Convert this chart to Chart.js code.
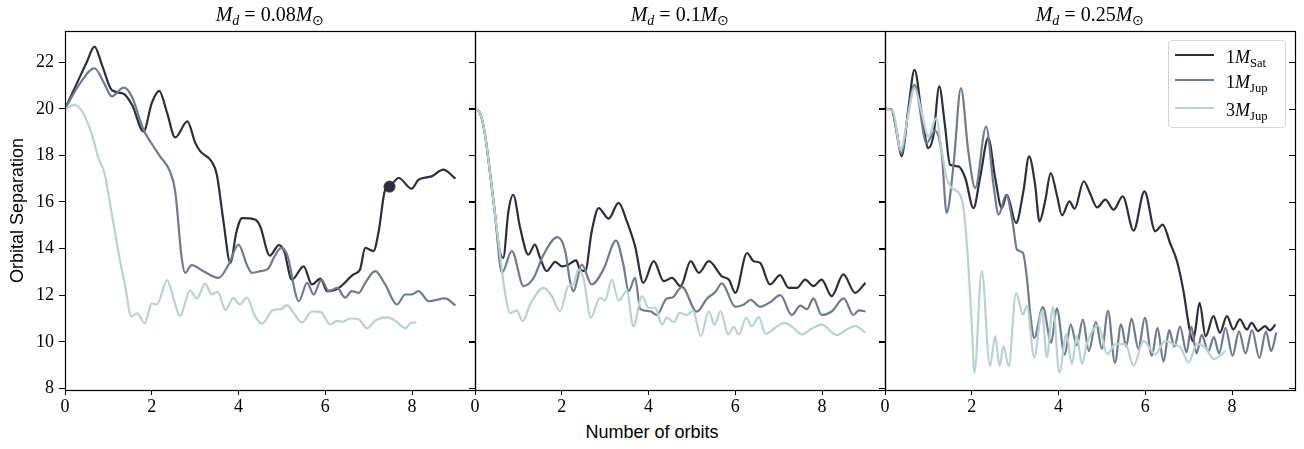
<!DOCTYPE html>
<html>
<head>
<meta charset="utf-8">
<title>Orbital separation</title>
<script src="https://cdn.jsdelivr.net/npm/chart.js@4.4.0/dist/chart.umd.min.js"></script>
<style>
  html, body { margin: 0; padding: 0; background: #fff; }
  #fig { position: relative; width: 1304px; height: 449px; overflow: hidden; }
  .panel { position: absolute; top: 0; }
  .ttl { position: absolute; top: 2px; width: 300px; margin-left: -150px; text-align: center;
         font-family: "Liberation Serif", serif; font-size: 20px; line-height: 24px; white-space: nowrap; }
  .sub { font-size: 0.7em; position: relative; top: 0.3em; }
  #xlabel { position: absolute; left: 552px; width: 200px; top: 422px; text-align: center;
            font-family: "Liberation Sans", sans-serif; font-size: 18px; line-height: 20px; }
  #legend { position: absolute; left: 1168px; top: 40px; width: 116px; height: 86px;
            border: 1px solid #d4d4d4; border-radius: 4px; background: rgba(255,255,255,0.85); }
  .lg-line { position: absolute; left: 6px; width: 39px; height: 2px; }
  .lg-text { position: absolute; left: 57px; font-family: "Liberation Serif", serif;
             font-size: 18px; line-height: 20px; white-space: nowrap; }
</style>
</head>
<body>
<div id="fig">
  <div id="xlabel">Number of orbits</div>
</div>
<script>
// axes
const xTicks = [0, 2, 4, 6, 8];
const yTicks = [8, 10, 12, 14, 16, 18, 20, 22];
const xMax = 9.45;
const yMin = 7.93, yMax = 23.34;

// legend text: planet mass
const seriesNum = ['1', '1', '3'];
const seriesSub = ['Sat', 'Jup', 'Jup'];
const seriesColors = ['#2d2d3e', '#707b8f', '#b9d2d2'];

// disc masses (panel titles)
const discMass = ['0.08', '0.1', '0.25'];

// M_d = 0.08
const a08SatX = [0, 0.3, 0.5, 0.68, 0.85, 1.08, 1.35, 1.55, 1.81, 2.0, 2.17, 2.35, 2.54, 2.82, 3.0, 3.12, 3.38, 3.5, 3.65, 3.81, 3.95, 4.08, 4.38, 4.5, 4.72, 4.93, 5.05, 5.23, 5.5, 5.69, 5.89, 6.04, 6.31, 6.65, 6.8, 6.92, 7.11, 7.23, 7.38, 7.48, 7.69, 7.99, 8.15, 8.45, 8.72, 9.0];
const a08SatY = [20, 21.2, 22.0, 22.67, 21.9, 20.8, 20.65, 20.15, 19.03, 20.25, 20.77, 19.85, 18.77, 19.46, 18.55, 18.17, 17.74, 17.17, 15.2, 13.39, 14.7, 15.31, 15.25, 14.95, 13.7, 14.15, 13.9, 12.67, 13.24, 12.46, 12.71, 12.17, 12.31, 12.89, 13.1, 14.03, 13.89, 14.74, 16.53, 16.66, 17.03, 16.57, 16.96, 17.1, 17.39, 17.0];
const a08JupX = [0, 0.35, 0.68, 0.9, 1.08, 1.35, 1.54, 1.81, 2.0, 2.19, 2.42, 2.54, 2.69, 2.77, 2.92, 3.19, 3.54, 3.77, 4.0, 4.19, 4.31, 4.5, 4.69, 4.81, 4.98, 5.12, 5.39, 5.58, 5.73, 5.91, 6.08, 6.27, 6.46, 6.61, 6.77, 6.92, 7.15, 7.38, 7.65, 7.84, 7.99, 8.15, 8.38, 8.76, 9.0];
const a08JupY = [20, 21.1, 21.74, 21.1, 20.53, 20.91, 20.53, 19.1, 18.5, 17.96, 17.31, 16.46, 13.6, 12.96, 13.29, 13.03, 12.74, 13.31, 14.17, 13.31, 12.96, 13.03, 13.15, 13.6, 14.03, 13.74, 11.74, 12.53, 12.03, 12.67, 12.17, 12.31, 11.89, 12.17, 12.1, 12.53, 13.03, 12.46, 11.6, 12.03, 12.03, 12.17, 11.74, 11.86, 11.56];
const a08J3X = [0, 0.23, 0.42, 0.62, 0.77, 0.92, 1.04, 1.15, 1.27, 1.38, 1.53, 1.66, 1.84, 2.0, 2.12, 2.35, 2.52, 2.65, 2.88, 3.04, 3.23, 3.38, 3.52, 3.7, 3.88, 4.03, 4.19, 4.38, 4.54, 4.8, 4.98, 5.11, 5.27, 5.46, 5.69, 5.89, 6.11, 6.27, 6.4, 6.57, 6.77, 6.96, 7.15, 7.42, 7.61, 7.84, 7.99, 8.1];
const a08J3Y = [20, 20.17, 19.81, 18.89, 17.89, 17.17, 15.89, 14.74, 13.46, 12.46, 11.08, 11.22, 10.8, 11.65, 11.6, 12.65, 11.74, 11.1, 12.2, 11.86, 12.5, 12.03, 12.14, 11.37, 11.87, 11.6, 11.9, 11.1, 10.78, 11.37, 11.4, 11.57, 11.24, 10.83, 11.3, 11.28, 10.75, 10.9, 10.86, 11.0, 10.96, 10.58, 10.91, 11.05, 10.91, 10.58, 10.82, 10.82];
// highlighted point on the Saturn run
const markX = [7.48];
const markY = [16.66];

// M_d = 0.1
const a10SatX = [0, 0.12, 0.23, 0.35, 0.46, 0.56, 0.65, 0.77, 0.88, 1.04, 1.23, 1.38, 1.5, 1.65, 1.85, 2.0, 2.15, 2.33, 2.42, 2.54, 2.69, 2.85, 3.08, 3.31, 3.5, 3.69, 3.88, 4.12, 4.35, 4.54, 4.74, 4.97, 5.16, 5.39, 5.69, 5.85, 6.0, 6.27, 6.42, 6.57, 6.8, 7.03, 7.23, 7.42, 7.61, 7.8, 7.99, 8.22, 8.49, 8.76, 9.0];
const a10SatY = [20, 19.8, 18.9, 17.2, 15.5, 14.0, 13.6, 15.6, 16.31, 14.89, 13.74, 14.17, 13.6, 13.03, 13.43, 13.24, 13.31, 13.49, 13.1, 13.03, 14.74, 15.74, 15.29, 15.96, 15.17, 14.1, 12.53, 13.46, 12.6, 12.74, 12.39, 13.46, 12.96, 13.46, 12.81, 12.67, 12.1, 13.81, 13.46, 13.39, 12.46, 12.86, 12.31, 12.31, 12.67, 12.39, 12.67, 11.96, 12.89, 12.1, 12.53];
const a10JupX = [0, 0.12, 0.23, 0.35, 0.46, 0.62, 0.85, 1.12, 1.35, 1.58, 1.9, 2.08, 2.19, 2.27, 2.46, 2.69, 2.96, 3.25, 3.42, 3.54, 3.69, 3.81, 4.04, 4.19, 4.42, 4.55, 4.77, 5.11, 5.35, 5.54, 5.69, 6.0, 6.2, 6.35, 6.57, 6.8, 7.04, 7.3, 7.5, 7.65, 7.8, 7.99, 8.22, 8.5, 8.72, 8.85, 9.0];
const a10JupY = [20, 19.8, 18.9, 17.2, 15.5, 12.96, 13.89, 12.39, 12.74, 13.74, 14.49, 13.89, 12.6, 12.17, 13.31, 12.46, 13.1, 14.34, 13.31, 12.17, 12.74, 11.4, 11.31, 11.15, 11.86, 11.9, 12.36, 11.29, 11.86, 12.14, 12.51, 11.5, 11.6, 11.8, 11.5, 11.7, 12.0, 11.15, 11.55, 11.4, 11.86, 11.15, 11.3, 11.86, 11.15, 11.35, 11.3];
const a10J3X = [0, 0.12, 0.23, 0.35, 0.46, 0.58, 0.66, 0.81, 0.96, 1.1, 1.27, 1.58, 1.77, 1.96, 2.15, 2.27, 2.38, 2.5, 2.67, 2.88, 3.0, 3.15, 3.31, 3.5, 3.65, 3.85, 4.0, 4.15, 4.31, 4.42, 4.59, 4.71, 4.88, 5.03, 5.2, 5.39, 5.52, 5.66, 5.84, 5.96, 6.08, 6.25, 6.38, 6.54, 6.7, 6.92, 7.13, 7.34, 7.53, 7.76, 7.99, 8.34, 8.57, 8.76, 9.0];
const a10J3Y = [20, 19.8, 18.9, 17.2, 15.5, 13.7, 12.5, 11.24, 11.34, 10.89, 11.6, 12.31, 11.96, 11.31, 12.39, 12.46, 13.1, 12.74, 11.03, 11.89, 11.77, 12.67, 11.77, 12.17, 10.67, 11.96, 11.46, 11.46, 10.74, 11.03, 10.84, 11.24, 11.15, 11.34, 10.24, 11.31, 10.74, 11.31, 10.31, 10.63, 10.31, 11.03, 10.67, 11.06, 10.34, 10.6, 10.81, 10.6, 10.31, 10.57, 10.74, 10.29, 10.53, 10.67, 10.39];

// M_d = 0.25
const a25SatX = [0, 0.15, 0.27, 0.38, 0.54, 0.68, 0.85, 1.0, 1.12, 1.25, 1.38, 1.5, 1.69, 1.85, 2.04, 2.19, 2.38, 2.54, 2.69, 2.81, 3.02, 3.19, 3.32, 3.46, 3.56, 3.69, 3.82, 3.96, 4.08, 4.25, 4.37, 4.58, 4.72, 4.89, 5.08, 5.27, 5.48, 5.73, 5.98, 6.23, 6.4, 6.57, 6.73, 6.88, 7.0, 7.09, 7.15, 7.25, 7.39, 7.57, 7.72, 7.88, 8.03, 8.18, 8.34, 8.45, 8.6, 8.76, 8.87, 9.0];
const a25SatY = [20, 19.96, 19.03, 17.96, 20.03, 21.67, 19.74, 18.31, 18.89, 20.96, 19.31, 17.6, 17.53, 17.03, 15.74, 17.03, 18.74, 17.03, 15.74, 16.31, 15.1, 16.46, 17.96, 16.74, 15.17, 16.03, 17.24, 16.31, 15.43, 16.03, 15.71, 16.89, 16.4, 15.77, 16.1, 15.67, 16.24, 14.77, 16.46, 14.74, 15.03, 14.24, 13.46, 12.17, 10.74, 10.03, 10.46, 11.67, 10.24, 11.1, 10.39, 11.1, 10.53, 10.96, 10.53, 10.81, 10.46, 10.67, 10.49, 10.74];
const a25JupX = [0, 0.15, 0.38, 0.54, 0.68, 0.96, 1.15, 1.31, 1.42, 1.58, 1.75, 1.92, 2.08, 2.33, 2.5, 2.62, 2.79, 2.95, 3.04, 3.18, 3.27, 3.35, 3.44, 3.64, 3.83, 3.96, 4.14, 4.28, 4.42, 4.56, 4.7, 4.86, 5.0, 5.14, 5.3, 5.44, 5.56, 5.68, 5.84, 5.99, 6.15, 6.28, 6.42, 6.55, 6.67, 6.8, 6.95, 7.06, 7.18, 7.3, 7.45, 7.58, 7.7, 7.85, 8.01, 8.16, 8.31, 8.46, 8.63, 8.78, 8.9, 9.02];
const a25JupY = [20, 19.96, 18.1, 19.9, 21.03, 18.53, 19.06, 18.03, 15.53, 17.6, 20.89, 18.17, 16.6, 19.24, 16.74, 15.46, 16.31, 15.03, 13.96, 13.81, 12.74, 11.17, 10.17, 11.49, 9.96, 11.44, 9.45, 10.74, 9.85, 10.95, 9.6, 10.85, 9.7, 11.33, 9.1, 10.75, 9.8, 11.0, 9.7, 11.03, 9.4, 10.6, 9.15, 10.5, 9.8, 10.65, 9.55, 10.65, 9.5, 10.3, 9.6, 10.2, 9.5, 10.6, 9.4, 10.45, 9.5, 10.5, 9.3, 10.45, 9.6, 10.4];
const a25J3X = [0, 0.19, 0.36, 0.52, 0.68, 0.84, 1.0, 1.18, 1.31, 1.42, 1.54, 1.73, 1.82, 1.92, 2.0, 2.06, 2.23, 2.42, 2.54, 2.64, 2.73, 2.85, 3.02, 3.18, 3.27, 3.44, 3.62, 3.73, 3.87, 4.02, 4.18, 4.31, 4.42, 4.54, 4.65, 4.92, 5.12, 5.31, 5.54, 5.73, 5.96, 6.23, 6.46, 6.65, 6.81, 7.0, 7.19, 7.38, 7.58, 7.85];
const a25J3Y = [20, 19.86, 18.24, 19.6, 20.89, 19.9, 18.81, 19.6, 18.17, 17.03, 16.6, 16.31, 15.6, 13.31, 10.74, 8.67, 13.03, 8.96, 10.24, 8.96, 9.81, 8.96, 12.1, 11.17, 11.53, 9.33, 11.33, 9.33, 11.5, 8.69, 10.33, 9.04, 10.26, 9.04, 9.9, 10.69, 9.47, 9.9, 9.9, 8.97, 10.04, 9.47, 10.04, 9.9, 9.76, 9.11, 9.9, 9.76, 9.26, 9.61];

// page layout of the three axes boxes (px)
const panels = [
  { series: [[a08SatX, a08SatY], [a08JupX, a08JupY], [a08J3X, a08J3Y]], left: 65, right: 475 },
  { series: [[a10SatX, a10SatY], [a10JupX, a10JupY], [a10J3X, a10J3Y]], left: 475, right: 885 },
  { series: [[a25SatX, a25SatY], [a25JupX, a25JupY], [a25J3X, a25J3Y]], left: 885, right: 1295 },
];
const AXW = 65, PADR = 15, TOP = 31, XAXH = 59, H = 449;
const serif = { family: '"Liberation Serif", serif', size: 18 };

function toPoints(xs, ys) {
  return xs.map((x, i) => ({ x: x, y: ys[i] }));
}

// box around the axes + the inward ticks on the right edge
const framePlugin = {
  id: 'frame',
  afterDraw(chart) {
    const { ctx, chartArea: a } = chart;
    const y = chart.scales.y;
    ctx.save();
    ctx.strokeStyle = '#000';
    ctx.lineWidth = 1.2;
    ctx.strokeRect(a.left + 0.5, a.top + 0.5, a.right - a.left, a.bottom - a.top);
    ctx.lineWidth = 1;
    y.ticks.forEach(t => {
      const py = Math.round(y.getPixelForValue(t.value)) + 0.5;
      ctx.beginPath();
      ctx.moveTo(a.right - 6, py);
      ctx.lineTo(a.right, py);
      ctx.stroke();
    });
    ctx.restore();
  }
};

const fig = document.getElementById('fig');

panels.forEach((p, i) => {
  const wrap = document.createElement('div');
  wrap.className = 'panel';
  wrap.style.left = (p.left - AXW) + 'px';
  const cv = document.createElement('canvas');
  cv.width = p.right - p.left + AXW + PADR;
  cv.height = H;
  wrap.appendChild(cv);
  fig.appendChild(wrap);

  const datasets = p.series.map((s, k) => ({
    label: seriesNum[k] + 'M' + seriesSub[k],
    data: toPoints(s[0], s[1]),
    borderColor: seriesColors[k],
    backgroundColor: seriesColors[k],
    borderWidth: 2.2,
    pointRadius: 0,
    fill: false,
    cubicInterpolationMode: 'monotone',
    order: 3 - k
  }));
  if (i === 0) {
    datasets.push({
      label: 'marker',
      data: toPoints(markX, markY),
      showLine: false,
      pointRadius: 5.5,
      pointBackgroundColor: seriesColors[0],
      pointBorderColor: seriesColors[0],
      order: 0
    });
  }

  new Chart(cv, {
    type: 'line',
    data: { datasets: datasets },
    plugins: [framePlugin],
    options: {
      responsive: false,
      animation: false,
      layout: { padding: { left: 0, right: PADR, top: TOP, bottom: 0 } },
      plugins: { legend: { display: false }, tooltip: { enabled: false } },
      scales: {
        x: {
          type: 'linear',
          min: 0,
          max: xMax,
          afterBuildTicks: s => { s.ticks = xTicks.map(v => ({ value: v })); },
          afterFit: s => { s.height = XAXH; },
          grid: { drawOnChartArea: false, drawTicks: true, tickLength: 5, tickColor: '#000' },
          border: { display: false },
          ticks: { color: '#000', font: serif, padding: 1, maxRotation: 0 }
        },
        y: {
          type: 'linear',
          min: yMin,
          max: yMax,
          afterBuildTicks: s => { s.ticks = yTicks.map(v => ({ value: v })); },
          afterFit: s => { s.width = AXW; },
          grid: { drawOnChartArea: false, drawTicks: true, tickLength: 6, tickColor: '#000' },
          border: { display: false },
          ticks: { display: i === 0, color: '#000', font: serif, padding: 5 },
          title: {
            display: i === 0,
            text: 'Orbital Separation',
            color: '#000',
            font: { family: '"Liberation Sans", sans-serif', size: 18 },
            padding: { top: 7, bottom: 0 }
          }
        }
      }
    }
  });

  // panel title
  const t = document.createElement('div');
  t.className = 'ttl';
  t.style.left = ((p.left + p.right) / 2) + 'px';
  t.innerHTML = '<i>M</i><span class="sub"><i>d</i></span> = ' + discMass[i] +
    '<i>M</i><span class="sub">\u2299</span>';
  fig.appendChild(t);
});

// legend in the right panel
const lg = document.createElement('div');
lg.id = 'legend';
const rowCentres = [14, 39, 67];
seriesNum.forEach((n, k) => {
  const line = document.createElement('div');
  line.className = 'lg-line';
  line.style.top = (rowCentres[k] - 1) + 'px';
  line.style.background = seriesColors[k];
  lg.appendChild(line);
  const txt = document.createElement('div');
  txt.className = 'lg-text';
  txt.style.top = (rowCentres[k] + 8 - 16) + 'px';
  txt.innerHTML = n + '<i>M</i><span class="sub">' + seriesSub[k] + '</span>';
  lg.appendChild(txt);
});
fig.appendChild(lg);
</script>
</body>
</html>
